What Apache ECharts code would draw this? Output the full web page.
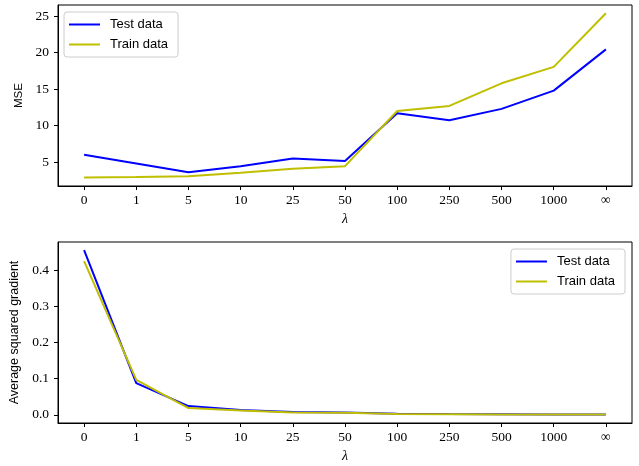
<!DOCTYPE html>
<html>
<head>
<meta charset="utf-8">
<script src="https://cdn.jsdelivr.net/npm/echarts@6/dist/echarts.min.js"></script>
<style>
html,body{margin:0;padding:0;background:#fff;}
#c{width:639px;height:466px;}
</style>
</head>
<body>
<div id="c"></div>
<script>
const categories = ['0','1','5','10','25','50','100','250','500','1000','∞'];
const mseTest  = [6.0, 4.8, 3.6, 4.45, 5.5, 5.15, 11.7, 10.75, 12.3, 14.8, 20.45];
const mseTrain = [2.9, 2.95, 3.05, 3.55, 4.1, 4.45, 12.0, 12.7, 15.8, 18.05, 25.4];
const gradTest  = [0.456, 0.0875, 0.024, 0.013, 0.008, 0.0065, 0.003, 0.002, 0.0015, 0.001, 0.0008];
const gradTrain = [0.426, 0.0966, 0.0185, 0.012, 0.0065, 0.0055, 0.002, 0.0015, 0.001, 0.0008, 0.0005];
const mseTicks  = [5, 10, 15, 20, 25];
const gradTicks = [0.0, 0.1, 0.2, 0.3, 0.4];

const chart = echarts.init(document.getElementById('c'), null, {renderer:'canvas'});
const serif = 'Liberation Serif';
const sans = 'Liberation Sans';
const blue = '#0000ff', yel = '#bfbf00';

function xAxis(gi){
  return {
    type:'category', gridIndex:gi, data:categories, boundaryGap:true,
    name:'λ', nameLocation:'middle', nameGap:26,
    nameTextStyle:{fontFamily:serif, fontStyle:'italic', fontSize:14, color:'#000'},
    axisLine:{show:true, onZero:false, lineStyle:{color:'#000', width:1}},
    axisTick:{show:true, alignWithLabel:true, length:4, lineStyle:{color:'#000'}},
    axisLabel:{fontFamily:serif, fontSize:13.5, color:'#000', margin:7, interval:0},
    splitLine:{show:false}
  };
}
const legendBase = {
  orient:'vertical', itemWidth:31, itemHeight:2, itemGap:5, icon:'rect',
  padding:[5,10,5,5], borderColor:'#cccccc', borderWidth:1, borderRadius:3,
  backgroundColor:'rgba(255,255,255,0.8)',
  textStyle:{fontFamily:sans, fontSize:13, color:'#000', padding:[0,0,0,5], lineHeight:15}
};

chart.setOption({
  animation:false,
  grid:[
    {left:58, top:5, width:574, height:181, show:true, borderColor:'#000', borderWidth:1, backgroundColor:'transparent'},
    {left:58, top:242, width:574, height:181, show:true, borderColor:'#000', borderWidth:1, backgroundColor:'transparent'}
  ],
  legend:[
    Object.assign({}, legendBase, {left:64, top:12, data:[{name:'Test data'},{name:'Train data'}]}),
    Object.assign({}, legendBase, {right:14, top:249, data:[{name:'Test data '},{name:'Train data '}],
      formatter:n=>n.trim()})
  ],
  xAxis:[xAxis(0), xAxis(1)],
  yAxis:[
    {type:'value', gridIndex:0, min:1.73, max:26.53,
     name:'MSE', nameLocation:'middle', nameGap:31, nameRotate:90,
     nameTextStyle:{fontFamily:sans, fontSize:11.5, color:'#000'},
     axisLine:{show:true, lineStyle:{color:'#000'}},
     axisTick:{show:true, length:4, lineStyle:{color:'#000'}, customValues:mseTicks},
     axisLabel:{fontFamily:serif, fontSize:13.5, color:'#000', margin:9, customValues:mseTicks},
     splitLine:{show:false}},
    {type:'value', gridIndex:1, min:-0.0228, max:0.4788,
     name:'Average squared gradient', nameLocation:'middle', nameGap:34, nameRotate:90,
     nameTextStyle:{fontFamily:sans, fontSize:12.5, color:'#000'},
     axisLine:{show:true, lineStyle:{color:'#000'}},
     axisTick:{show:true, length:4, lineStyle:{color:'#000'}, customValues:gradTicks},
     axisLabel:{fontFamily:serif, fontSize:13.5, color:'#000', margin:9, customValues:gradTicks,
       formatter:v=>v.toFixed(1)},
     splitLine:{show:false}}
  ],
  series:[
    {name:'Test data', type:'line', xAxisIndex:0, yAxisIndex:0, data:mseTest, symbol:'none', lineStyle:{color:blue, width:2}, itemStyle:{color:blue}},
    {name:'Train data', type:'line', xAxisIndex:0, yAxisIndex:0, data:mseTrain, symbol:'none', lineStyle:{color:yel, width:2}, itemStyle:{color:yel}},
    {name:'Test data ', type:'line', xAxisIndex:1, yAxisIndex:1, data:gradTest, symbol:'none', lineStyle:{color:blue, width:2}, itemStyle:{color:blue}},
    {name:'Train data ', type:'line', xAxisIndex:1, yAxisIndex:1, data:gradTrain, symbol:'none', lineStyle:{color:yel, width:2}, itemStyle:{color:yel}}
  ]
});
</script>
</body>
</html>
